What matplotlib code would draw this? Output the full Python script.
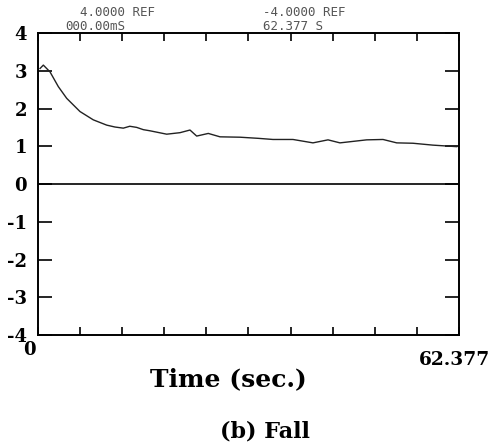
import numpy as np
import matplotlib
matplotlib.use("Agg")
import matplotlib.pyplot as plt

# Data
t_end = 62.377
time_s = [0.30, 0.79, 1.78, 3.01, 4.25, 6.22, 8.19, 10.18, 11.4, 12.64, 13.6, 14.62,
          15.6, 16.59, 19.07, 21.04, 22.52, 23.51, 25.23, 26.97, 29.93, 32.64,
          34.82, 37.78, 40.74, 42.97, 44.74, 48.70, 51.12, 53.15, 55.56, 58.52, 62.03]
signal = [3.06, 3.15, 2.97, 2.58, 2.27, 1.92, 1.70, 1.56, 1.51, 1.48, 1.53, 1.50,
          1.44, 1.41, 1.32, 1.36, 1.43, 1.27, 1.34, 1.25, 1.24, 1.21,
          1.18, 1.18, 1.09, 1.17, 1.09, 1.17, 1.18, 1.09, 1.08, 1.03, 0.99]
y_ticks = [-4, -3, -2, -1, 0, 1, 2, 3, 4]
y_labels = ["-4", "-3", "-2", "-1", "0", "1", "2", "3", "4"]
x_left_label = "0"
x_right_label = "62.377"
x_title = "Time (sec.)"
caption = "(b) Fall"
hdr_left = ["4.0000 REF", "000.00mS"]
hdr_right = ["-4.0000 REF", "62.377 S"]

fig = plt.figure(figsize=(4.91, 4.48), dpi=100)
ax = fig.add_axes([0.0774, 0.2522, 0.8574, 0.6741])
ax.plot(time_s, signal, color="#222222", lw=1.0)
ax.axhline(0, color="black", lw=1.2)
ax.set_xlim(0, t_end)
ax.set_ylim(-4, 4)
for s in ax.spines.values():
    s.set_linewidth(1.4)
    s.set_color("black")

serif_family = "DejaVu Serif"
ax.set_xticks(np.linspace(0, t_end, 11))
ax.set_xticklabels([])
ax.set_yticks(y_ticks)
ax.set_yticklabels(y_labels, fontfamily=serif_family, fontweight="bold", fontsize=13)
ax.tick_params(axis="y", direction="in", length=10, width=1.2, left=True, right=True, pad=8)
ax.tick_params(axis="x", direction="in", length=6, width=1.2, top=True, bottom=True)

serif = dict(fontfamily=serif_family, fontweight="bold")
fig.text(29/491, 1-350/448, x_left_label, ha="center", va="center", fontsize=13, **serif)
fig.text(454/491, 1-360/448, x_right_label, ha="center", va="center", fontsize=13.4, **serif)
fig.text(228/491, 1-379/448, x_title, ha="center", va="center", fontsize=18, **serif)
fig.text(265/491, 1-431/448, caption, ha="center", va="center", fontsize=16, **serif)

mono = dict(fontfamily="DejaVu Sans Mono", color="#555555", fontsize=9)
fig.text(80/491, 1-12/448, hdr_left[0], ha="left", va="center", **mono)
fig.text(65/491, 1-27/448, hdr_left[1], ha="left", va="center", **mono)
fig.text(263/491, 1-12/448, hdr_right[0], ha="left", va="center", **mono)
fig.text(263/491, 1-27/448, hdr_right[1], ha="left", va="center", **mono)

fig.savefig("out.png", dpi=100)
